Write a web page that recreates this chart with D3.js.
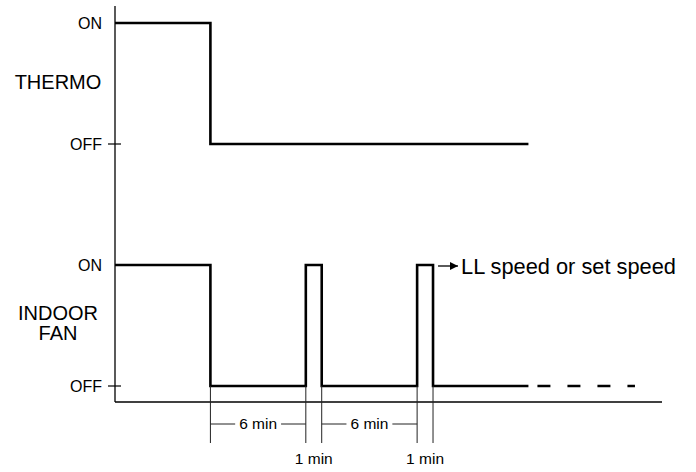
<!DOCTYPE html>
<html><head><meta charset="utf-8">
<script src="https://cdn.jsdelivr.net/npm/d3@7"></script>
<style>body{margin:0;background:#fff}svg{display:block;font-family:"Liberation Sans",Arial,sans-serif}</style>
</head><body><svg id="c" width="696" height="472"></svg>
<script>
// ---- data ----
const stateLabels = ["OFF", "ON"];
const panelNames = [["THERMO"], ["INDOOR", "FAN"]];
const thermoTimes = [-6, 0, 0, 20];
const thermoStates = [1, 1, 0, 0];
const fanTimes = [-6, 0, 0, 6, 6, 7, 7, 13, 13, 14, 14, 20];
const fanStates = [1, 1, 0, 0, 1, 1, 0, 0, 1, 1, 0, 0];
const fanDashTimes = [20, 26.7];
const intervalStarts = [0, 6, 7, 13];
const intervalEnds = [6, 7, 13, 14];
const intervalLabels = ["6 min", "1 min", "6 min", "1 min"];
const noteText = "LL speed or set speed";

// ---- layout ----
const svg = d3.select("#c");
const x = d3.scaleLinear().domain([-6, 28.4]).range([115, 662]);
const yThermo = d3.scaleLinear().domain([0, 1]).range([144, 23]);
const yFan = d3.scaleLinear().domain([0, 1]).range([386, 265]);
const axisY = 402, axisTop = 6;

// axes
svg.append("line").attr("x1", x(-6)).attr("x2", x(-6)).attr("y1", axisTop).attr("y2", axisY)
  .attr("stroke", "#000").attr("stroke-width", 1.3);
svg.append("line").attr("x1", x(-6)).attr("x2", x(28.4)).attr("y1", axisY).attr("y2", axisY)
  .attr("stroke", "#000").attr("stroke-width", 1.3);

[yThermo, yFan].forEach((ys, i) => {
  svg.append("line").attr("x1", x(-6) - 7).attr("x2", x(-6) + 6).attr("y1", ys(0)).attr("y2", ys(0))
    .attr("stroke", "#000").attr("stroke-width", 1.2);
  stateLabels.forEach((lab, s) => {
    svg.append("text").attr("x", 102).attr("y", ys(s)).attr("dy", "0.35em")
      .attr("text-anchor", "end").attr("font-size", 16).text(lab);
  });
  const names = panelNames[i];
  const cy = (ys(0) + ys(1)) / 2 + (i === 0 ? -1.5 : -3);
  names.forEach((n, k) => {
    svg.append("text").attr("x", 58).attr("y", cy + (k - (names.length - 1) / 2) * 20)
      .attr("dy", "0.35em").attr("text-anchor", "middle").attr("font-size", 20).text(n);
  });
});

const line = (ys) => d3.line().x(d => x(d[0])).y(d => ys(d[1]));
svg.append("path").attr("d", line(yThermo)(d3.zip(thermoTimes, thermoStates)))
  .attr("fill", "none").attr("stroke", "#000").attr("stroke-width", 2.6);
svg.append("path").attr("d", line(yFan)(d3.zip(fanTimes, fanStates)))
  .attr("fill", "none").attr("stroke", "#000").attr("stroke-width", 2.6);
svg.append("path").attr("d", line(yFan)(fanDashTimes.map(t => [t, 0])))
  .attr("fill", "none").attr("stroke", "#000").attr("stroke-width", 2.6)
  .attr("stroke-dasharray", "0 9 13 8");

// dimension lines
const dimTimes = Array.from(new Set(intervalStarts.concat(intervalEnds)));
dimTimes.forEach(t => {
  svg.append("line").attr("x1", x(t)).attr("x2", x(t)).attr("y1", yFan(0)).attr("y2", 443)
    .attr("stroke", "#222").attr("stroke-width", 1);
});
intervalLabels.forEach((lab, i) => {
  const a = x(intervalStarts[i]), b = x(intervalEnds[i]), m = (a + b) / 2;
  if (intervalEnds[i] - intervalStarts[i] > 2) {
    const t = svg.append("text").attr("x", m).attr("y", 424).attr("dy", "0.35em")
      .attr("text-anchor", "middle").attr("font-size", 15.5).text(lab);
    const w = t.node().getComputedTextLength();
    svg.append("line").attr("x1", a).attr("x2", m - w / 2 - 4).attr("y1", 424).attr("y2", 424)
      .attr("stroke", "#222").attr("stroke-width", 1);
    svg.append("line").attr("x1", m + w / 2 + 4).attr("x2", b).attr("y1", 424).attr("y2", 424)
      .attr("stroke", "#222").attr("stroke-width", 1);
  } else {
    svg.append("text").attr("x", m).attr("y", 459).attr("dy", "0.35em")
      .attr("text-anchor", "middle").attr("font-size", 15.5).text(lab);
  }
});

// arrow note
svg.append("defs").append("marker").attr("id", "ah").attr("viewBox", "0 0 10 10")
  .attr("refX", 10).attr("refY", 5).attr("markerWidth", 10).attr("markerHeight", 8)
  .attr("markerUnits", "userSpaceOnUse").attr("orient", "auto")
  .append("path").attr("d", "M0,0L10,5L0,10Z").attr("fill", "#000");
const ax0 = x(14) + 5;
svg.append("line").attr("x1", ax0).attr("x2", ax0 + 20).attr("y1", yFan(1) + 1).attr("y2", yFan(1) + 1)
  .attr("stroke", "#000").attr("stroke-width", 1.3).attr("marker-end", "url(#ah)");
svg.append("text").attr("x", ax0 + 23).attr("y", yFan(1) + 1).attr("dy", "0.35em")
  .attr("font-size", 21.8).text(noteText);
</script></body></html>
